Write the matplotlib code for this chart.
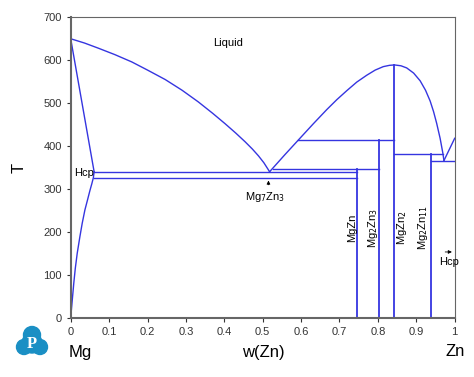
import matplotlib
matplotlib.use("Agg")
import matplotlib.pyplot as plt
from matplotlib.patches import Circle

plt.rcParams['font.family'] = ['Liberation Sans', 'DejaVu Sans']

# ---- data ----
liq_mg_x = [0.0, 0.036, 0.072, 0.115, 0.159, 0.2, 0.246, 0.29, 0.332, 0.37, 0.402, 0.43, 0.454, 0.473, 0.489, 0.503, 0.518]
liq_mg_T = [650, 640, 628, 613, 596, 577, 555, 530, 503, 476, 452, 430, 410, 393, 377, 361, 340]
solidus_x = [0.0, 0.061]
solidus_T = [650, 340]
solvus_x = [0.0, 0.004, 0.008, 0.012, 0.017, 0.024, 0.030, 0.037, 0.044, 0.050, 0.055, 0.059, 0.061]
solvus_T = [0, 40, 80, 115, 150, 189, 220, 251, 275, 296, 312, 326, 340]
dome_x = [0.518, 0.558, 0.597, 0.632, 0.667, 0.693, 0.719, 0.745, 0.771, 0.793, 0.814, 0.83, 0.843,
          0.86, 0.875, 0.893, 0.91, 0.924, 0.936, 0.945, 0.953, 0.962, 0.969, 0.972]
dome_T = [340, 380, 418, 452, 485, 508, 529, 549, 565, 577, 585, 588, 589,
          587, 582, 570, 552, 530, 505, 480, 453, 418, 384, 366]
liq_zn_x = [0.972, 1.0]
liq_zn_T = [366, 418]

# horizontal invariant lines: (x_start, x_end, T)
invariants_x0 = [0.061, 0.061, 0.527, 0.593, 0.843, 0.9375]
invariants_x1 = [0.745, 0.745, 0.803, 0.843, 0.9695, 1.0]
invariants_T = [340, 325, 347, 414, 381, 366]

# compound lines
comp_names = ['MgZn', 'Mg$_2$Zn$_3$', 'MgZn$_2$', 'Mg$_2$Zn$_{11}$']
comp_x = [0.745, 0.803, 0.843, 0.9375]
comp_top = [347, 414, 589, 381]
comp_label_x = [0.732, 0.786, 0.862, 0.918]

xticks = [0, 0.1, 0.2, 0.3, 0.4, 0.5, 0.6, 0.7, 0.8, 0.9, 1]
xticklabels = ['0', '0.1', '0.2', '0.3', '0.4', '0.5', '0.6', '0.7', '0.8', '0.9', '1']
yticks = [0, 100, 200, 300, 400, 500, 600, 700]

col = '#3535e0'
lw = 1.0

fig = plt.figure(figsize=(4.74, 3.77), dpi=100)
ax = fig.add_axes([70.7/474, 1-317.6/377, 384/474, 300.3/377])

ax.plot(liq_mg_x, liq_mg_T, color=col, lw=lw)
ax.plot(solidus_x, solidus_T, color=col, lw=lw)
ax.plot(solvus_x, solvus_T, color=col, lw=lw)
ax.plot(dome_x, dome_T, color=col, lw=lw)
ax.plot(liq_zn_x, liq_zn_T, color=col, lw=lw)
for x0, x1, T in zip(invariants_x0, invariants_x1, invariants_T):
    ax.plot([x0, x1], [T, T], color=col, lw=lw)
for x, top in zip(comp_x, comp_top):
    ax.plot([x, x], [0, top], color=col, lw=1.3)

for name, lx in zip(comp_names, comp_label_x):
    ax.text(lx, 210, name, rotation=90, ha='center', va='center', fontsize=8)

ax.text(0.41, 640, 'Liquid', ha='center', va='center', fontsize=8)
ax.text(0.008, 338, 'Hcp', ha='left', va='center', fontsize=8)
ax.text(0.985, 130, 'Hcp', ha='center', va='center', fontsize=8)
ax.annotate('', xy=(1.0, 153), xytext=(0.968, 153),
            arrowprops=dict(arrowstyle='-|>', color='black', lw=0.6, mutation_scale=5))
ax.text(0.505, 281, 'Mg$_7$Zn$_3$', ha='center', va='center', fontsize=8)
ax.annotate('', xy=(0.515, 326), xytext=(0.515, 303),
            arrowprops=dict(arrowstyle='-|>', color='black', lw=0.6, mutation_scale=5))

ax.set_xlim(0, 1)
ax.set_ylim(0, 700)
ax.set_xticks(xticks)
ax.set_xticklabels(xticklabels)
ax.set_yticks(yticks)
ax.tick_params(labelsize=8, length=3, width=0.8, direction='out', colors='#333333')
for s in ax.spines.values():
    s.set_color('#666666')
ax.spines['left'].set_linewidth(1.5)
ax.spines['bottom'].set_linewidth(1.5)
ax.set_ylabel('T', fontsize=12, labelpad=12)

fig.text(80/474, 1-352/377, 'Mg', fontsize=12, ha='center', va='center')
fig.text(263/474, 1-352/377, 'w(Zn)', fontsize=12, ha='center', va='center')
fig.text(455/474, 1-352/377, 'Zn', fontsize=12, ha='center', va='center')

# logo
lax = fig.add_axes([15/474, 1-358/377, 34/474, 34/377])
lax.set_xlim(0, 34)
lax.set_ylim(0, 34)
lax.set_aspect('equal')
lax.axis('off')
lc = '#1a8fc4'
for cx, cy, r in [(17, 23, 8.5), (9, 11, 7.5), (25, 11, 7.5), (17, 15, 10)]:
    lax.add_patch(Circle((cx, cy), r, color=lc))
lax.text(17, 14, 'P', color='white', fontsize=12, fontweight='bold',
         ha='center', va='center', family='Liberation Serif')

fig.savefig('out.png', dpi=100)
